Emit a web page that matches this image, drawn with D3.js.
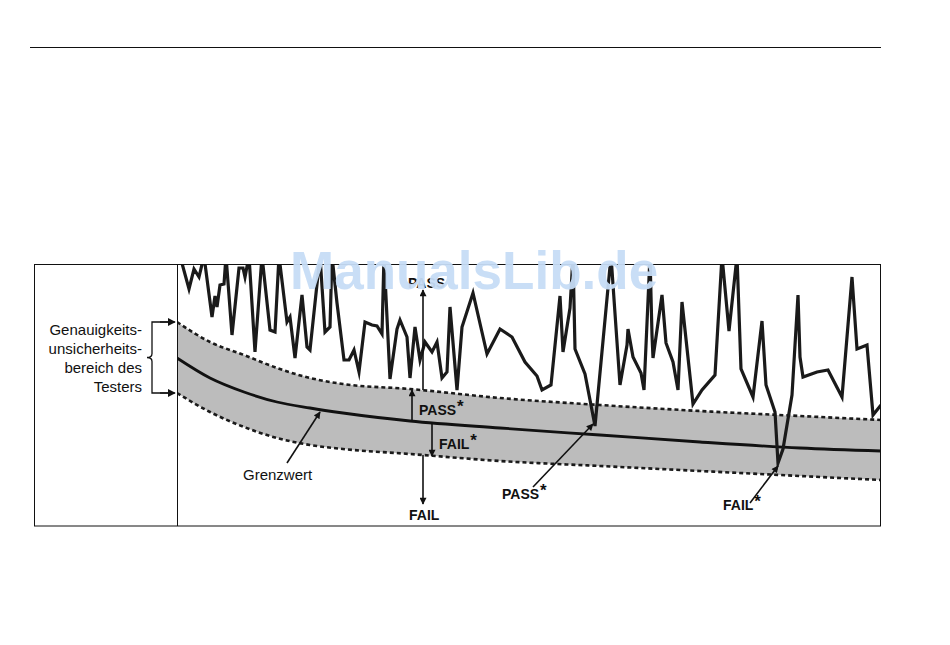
<!DOCTYPE html>
<html><head><meta charset="utf-8">
<script src="https://cdn.jsdelivr.net/npm/d3@7"></script>
<style>
html,body{margin:0;padding:0;background:#fff;}
svg{display:block;font-family:"Liberation Sans",Arial,sans-serif;}
</style></head>
<body><svg id="c" width="950" height="645"></svg>
<script>
// ---- data (frequency units along x, level units along y) ----
const bandX      = [0, 33, 67, 100, 133, 166, 233, 323, 423, 523, 623, 704];
const bandUpper  = [204,184,171,158,148,142,137,128,121,115,110,106];
const limitVals  = [168,148,134,124,118,113,105, 98, 91, 84, 78, 75];
const bandLower  = [133,114, 99, 88, 81, 77, 72, 65, 60, 55, 50, 46];

const measX = [3,12,17,22,27,35,38,40,43,47,49,55,62,66,68,72,78,85,93,98,102,110,113,118,125,130,133,143,148,153,155,160,167,172,177,182,188,195,200,205,207,213,220,223,230,233,238,243,248,255,260,265,270,273,280,285,296,310,323,335,348,360,365,374,383,386,393,396,398,408,418,434,443,450,451,456,464,467,473,475,476,485,489,496,501,505,516,525,538,545,552,560,564,576,585,589,598,601,606,615,621,623,626,640,651,665,675,680,690,696,704];
const measY = [270,237,257,249,270,209,230,219,241,242,270,191,258,258,249,270,174,270,196,194,270,204,209,168,231,179,176,270,194,199,270,223,166,166,176,154,204,201,200,192,270,147,197,206,189,148,199,166,184,174,184,148,154,219,136,199,233,172,197,189,164,150,136,141,230,174,218,270,177,152,100,270,141,181,197,169,153,136,270,191,168,231,183,164,136,224,122,136,151,270,195,270,157,129,205,141,114,63,77,131,231,169,149,154,156,129,249,177,181,111,121];

const legendLines = ["Genauigkeits-","unsicherheits-","bereich des","Testers"];
// annotation arrows: [x1,y1,x2,y2] in data units, arrowhead at end
const arrows = [
  {x1:246,y1:136,x2:246,y2:236},   // PASS
  {x1:235,y1:104,x2:235,y2:136},   // PASS*
  {x1:255,y1:104,x2:255,y2:70},    // FAIL*
  {x1:246,y1:71, x2:246,y2:22},    // FAIL
  {x1:110,y1:63, x2:143,y2:114},   // Grenzwert
  {x1:356,y1:39, x2:416,y2:102},   // PASS* (lower)
  {x1:573,y1:23, x2:601,y2:60}     // FAIL* (lower)
];
const labels = [
  {t:"PASS", star:false, x:231, y:238, bold:true},
  {t:"PASS", star:true,  x:242, y:111, bold:true},
  {t:"FAIL", star:true,  x:262, y:77,  bold:true},
  {t:"FAIL", star:false, x:232, y:6,   bold:true},
  {t:"Grenzwert", star:false, x:66, y:46, bold:false},
  {t:"PASS", star:true,  x:325, y:27,  bold:true},
  {t:"FAIL", star:true,  x:546, y:16,  bold:true}
];

// ---- layout ----
const svg = d3.select("#c");
const x = d3.scaleLinear().domain([0,704]).range([177,881]);
const y = d3.scaleLinear().domain([0,262]).range([526,264]);

svg.append("line").attr("x1",30).attr("x2",881).attr("y1",47.5).attr("y2",47.5)
  .attr("stroke","#111").attr("stroke-width",1);

const defs = svg.append("defs");
defs.append("clipPath").attr("id","plot").append("rect")
  .attr("x",177).attr("y",264).attr("width",704).attr("height",262);
defs.append("marker").attr("id","ah").attr("viewBox","0 0 10 10")
  .attr("refX",9).attr("refY",5).attr("markerWidth",8).attr("markerHeight",7)
  .attr("markerUnits","userSpaceOnUse").attr("orient","auto")
  .append("path").attr("d","M0,0 L10,5 L0,10 Z").attr("fill","#111");
defs.append("marker").attr("id","ah2").attr("viewBox","0 0 10 10")
  .attr("refX",9).attr("refY",5).attr("markerWidth",8).attr("markerHeight",8)
  .attr("markerUnits","userSpaceOnUse").attr("orient","auto")
  .append("path").attr("d","M0,0 L10,5 L0,10 Z").attr("fill","#111");

const g = svg.append("g").attr("clip-path","url(#plot)");
const band = bandX.map((d,i)=>({x:d,u:bandUpper[i],l:bandLower[i],m:limitVals[i]}));
g.append("path").datum(band)
  .attr("d", d3.area().x(d=>x(d.x)).y0(d=>y(d.l)).y1(d=>y(d.u)).curve(d3.curveMonotoneX))
  .attr("fill","#bcbcbc");
["u","l"].forEach(k=>{
  g.append("path").datum(band)
   .attr("d", d3.line().x(d=>x(d.x)).y(d=>y(d[k])).curve(d3.curveMonotoneX))
   .attr("fill","none").attr("stroke","#1a1a1a").attr("stroke-width",2.6)
   .attr("stroke-dasharray","4,3");
});
g.append("path").datum(band)
  .attr("d", d3.line().x(d=>x(d.x)).y(d=>y(d.m)).curve(d3.curveMonotoneX))
  .attr("fill","none").attr("stroke","#111").attr("stroke-width",2.8);

const meas = measX.map((d,i)=>({x:d,y:measY[i]}));
g.append("path").datum(meas)
  .attr("d", d3.line().x(d=>x(d.x)).y(d=>y(d.y)))
  .attr("fill","none").attr("stroke","#1a1a1a").attr("stroke-width",3.2)
  .attr("stroke-linejoin","miter").attr("stroke-miterlimit",6);

// arrows
arrows.forEach(a=>{
  svg.append("line").attr("x1",x(a.x1)).attr("y1",y(a.y1)).attr("x2",x(a.x2)).attr("y2",y(a.y2))
    .attr("stroke","#111").attr("stroke-width",1.6).attr("marker-end","url(#ah)");
});

// labels
labels.forEach(l=>{
  const t = svg.append("text").attr("x",x(l.x)).attr("y",y(l.y))
    .attr("font-size", l.bold?14:15).attr("font-weight", l.bold?"bold":"normal")
    .attr("fill","#111").text(l.t);
  if(l.star) t.append("tspan").attr("dy",-3).attr("dx",1).attr("font-size",17).text("*");
});

// frame
svg.append("rect").attr("x",34.5).attr("y",264.5).attr("width",846).attr("height",261.5)
  .attr("fill","none").attr("stroke","#111").attr("stroke-width",1);
svg.append("line").attr("x1",177.5).attr("x2",177.5).attr("y1",264).attr("y2",526)
  .attr("stroke","#111").attr("stroke-width",1);

// legend text + brace
const lg = svg.append("text").attr("text-anchor","end").attr("font-size",15).attr("fill","#111");
legendLines.forEach((s,i)=>lg.append("tspan").attr("x",142).attr("y",335+i*19).text(s));
const yt = y(bandUpper[0]), yb = y(bandLower[0]), ym = (yt+yb)/2;
svg.append("path")
  .attr("d",`M174,${yt} L152,${yt} L152,${ym-4} Q152,${ym} 147,${ym} Q152,${ym} 152,${ym+4} L152,${yb} L174,${yb}`)
  .attr("fill","none").attr("stroke","#111").attr("stroke-width",1.3);
svg.append("line").attr("x1",160).attr("x2",175).attr("y1",yt).attr("y2",yt)
  .attr("stroke","#111").attr("stroke-width",1.3).attr("marker-end","url(#ah2)");
svg.append("line").attr("x1",160).attr("x2",175).attr("y1",yb).attr("y2",yb)
  .attr("stroke","#111").attr("stroke-width",1.3).attr("marker-end","url(#ah2)");

// watermark
svg.append("text").attr("x",290).attr("y",289).attr("font-size",53).attr("font-weight","bold")
  .attr("fill","#c6dcf6").attr("fill-opacity",0.95).text("ManualsLib.de");
</script></body></html>
